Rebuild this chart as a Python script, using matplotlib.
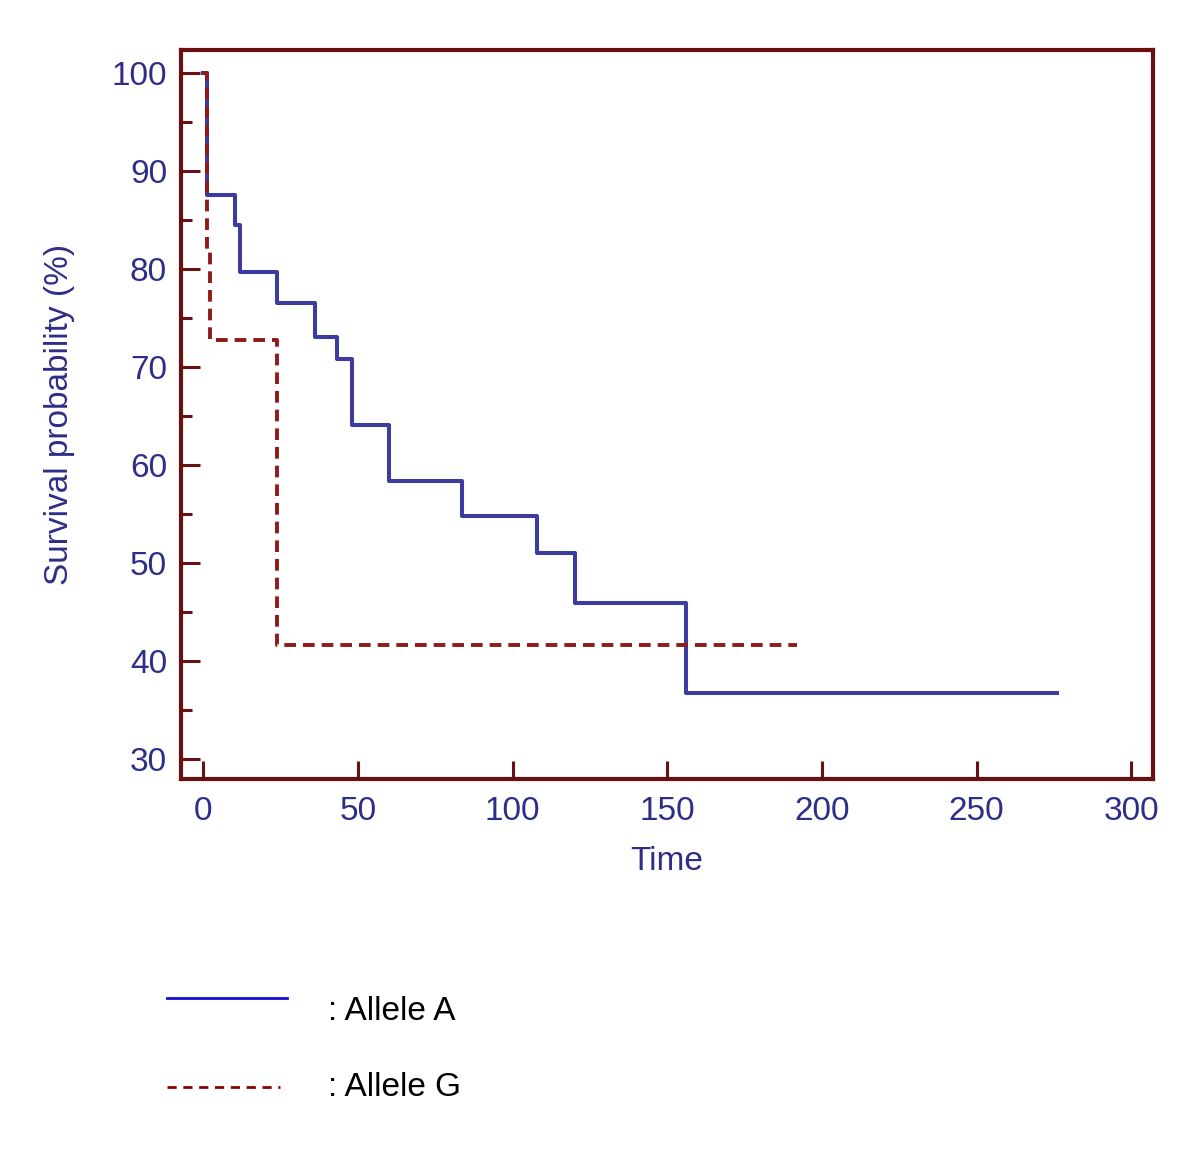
import numpy as np
import matplotlib.pyplot as plt
from matplotlib.lines import Line2D

plt.rcParams['font.family'] = ['Liberation Sans', 'DejaVu Sans']

# Kaplan-Meier steps
time_a = [0, 1.2, 10.2, 11.9, 23.7, 36.1, 43.1, 48.0, 60.1, 83.8, 108.0, 120.1, 156.2, 276]
surv_a = [100, 87.5, 84.4, 79.7, 76.5, 73.0, 70.8, 64.0, 58.3, 54.8, 51.0, 45.9, 36.7, 36.7]

time_g = [0, 1.2, 2.3, 23.7, 192]
surv_g = [100, 81.8, 72.7, 41.6, 41.6]

xticks = [0, 50, 100, 150, 200, 250, 300]
yticks = [30, 40, 50, 60, 70, 80, 90, 100]
labels = [': Allele A', ': Allele G']

navy = '#2e2e88'
maroon = '#6a1010'
blue_line = '#3b3ba0'
red_line = '#8e1a1a'

fig = plt.figure(figsize=(12, 11.59), dpi=100)
ax = fig.add_axes([0.1508, 0.3279, 0.81, 0.629])

ax.step(time_a, surv_a, where='post', color=blue_line, lw=2.9, zorder=3)
l, = ax.step(time_g, surv_g, where='post', color=red_line, lw=2.8, zorder=4)
l.set_dashes((3.0, 1.8))

ax.set_xlim(-7.2, 307)
ax.set_ylim(27.95, 102.3)
ax.set_xticks(xticks)
ax.set_yticks(yticks)
ax.set_yticks(np.arange(35, 100, 10), minor=True)

for s in ax.spines.values():
    s.set_color(maroon)
    s.set_linewidth(3)

ax.tick_params(axis='both', which='major', direction='in', color=maroon,
               width=2.2, labelsize=24, labelcolor=navy)
ax.tick_params(axis='y', which='major', length=14, pad=10)
ax.tick_params(axis='y', which='minor', direction='in', length=8,
               width=2.2, color=maroon)
ax.tick_params(axis='x', which='major', length=13, pad=12)

ax.set_xlabel('Time', fontsize=24, color=navy, labelpad=14)
ax.set_ylabel('Survival probability (%)', fontsize=24, color=navy, labelpad=26)

# legend drawn below the plot
leg_y = [1 - 998 / 1159, 1 - 1087 / 1159]
fig.add_artist(Line2D([167 / 1200, 287 / 1200], [leg_y[0], leg_y[0]],
                      color='#1010d0', lw=2, transform=fig.transFigure))
lg = Line2D([167 / 1200, 280 / 1200], [leg_y[1], leg_y[1]],
            color='#8b0000', lw=2, transform=fig.transFigure)
lg.set_dashes((3.3, 2.4))
fig.add_artist(lg)
fig.text(328 / 1200, 1 - 1011 / 1159, labels[0], fontsize=24, va='center')
fig.text(328 / 1200, 1 - 1087 / 1159, labels[1], fontsize=24, va='center')

fig.savefig('out.png', dpi=100)
